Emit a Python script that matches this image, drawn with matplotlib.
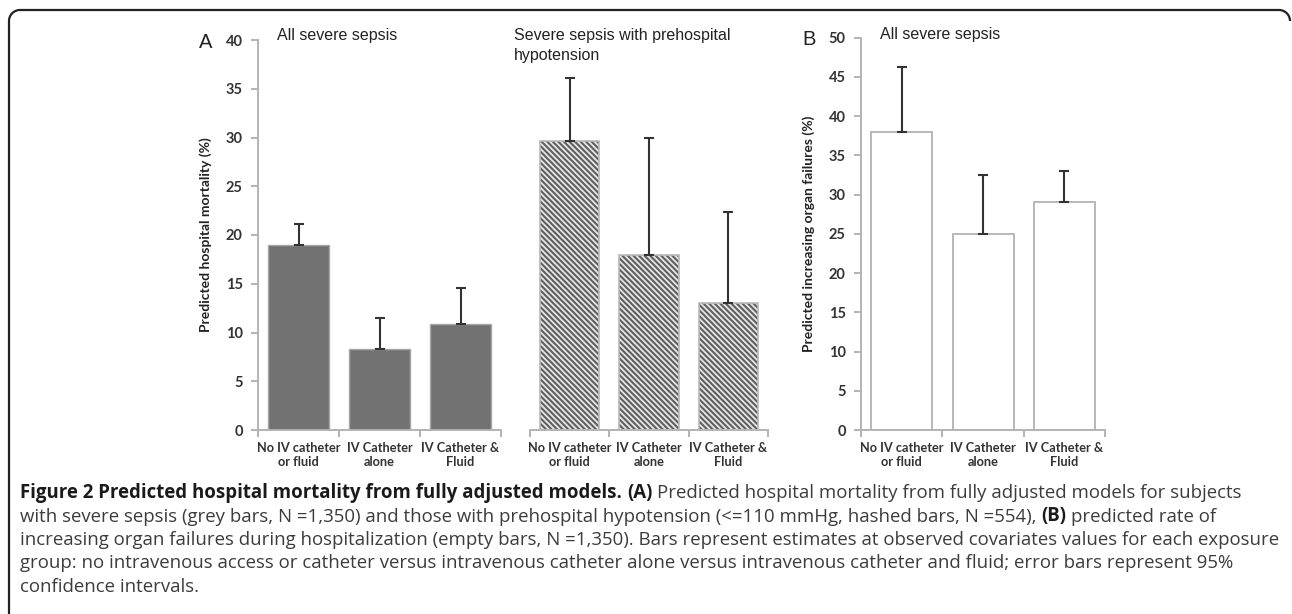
import matplotlib
matplotlib.use("Agg")
import matplotlib.pyplot as plt
import numpy as np
from matplotlib.patches import Arc

# ---------------- data ----------------
categories = ["No IV catheter\nor fluid", "IV Catheter\nalone", "IV Catheter &\nFluid"]
mort_all = [19.0, 8.3, 10.9]
mort_all_upper = [21.1, 11.5, 14.6]
mort_hypo = [29.6, 17.9, 13.0]
mort_hypo_upper = [36.1, 30.0, 22.4]
organ_all = [38.0, 25.0, 29.1]
organ_all_upper = [46.3, 32.5, 33.0]

yticks_a = [0, 5, 10, 15, 20, 25, 30, 35, 40]
yticks_b = [0, 5, 10, 15, 20, 25, 30, 35, 40, 45, 50]

W, H = 1292, 614
fig = plt.figure(figsize=(W / 100, H / 100), dpi=100)
fig.patch.set_facecolor("white")

TICKFONT = "Lato"
SPINE = "#b3b3b3"
plt.rcParams["hatch.linewidth"] = 1.5


def ax_px(left, right, top, bottom):
    return fig.add_axes([left / W, 1 - bottom / H, (right - left) / W, (bottom - top) / H])


def style(ax, ylim, yticks, show_y=True):
    ax.set_xlim(-0.5, 2.5)
    ax.set_ylim(*ylim)
    ax.spines["top"].set_visible(False)
    ax.spines["right"].set_visible(False)
    ax.spines["bottom"].set_color(SPINE)
    ax.spines["bottom"].set_linewidth(1.4)
    ax.spines["left"].set_color(SPINE)
    ax.spines["left"].set_linewidth(1.4)
    ax.set_facecolor("none")
    # category boundary ticks on x
    ax.set_xticks([-0.5, 0.5, 1.5, 2.5])
    ax.set_xticklabels([])
    ax.tick_params(axis="x", which="major", direction="out", length=5, width=1.4, color=SPINE)
    ax.set_xticks([0, 1, 2], minor=True)
    ax.set_xticklabels(categories, minor=True, fontfamily=TICKFONT, fontweight="bold",
                       fontsize=9.2, color="#333333", linespacing=1.1)
    ax.tick_params(axis="x", which="minor", length=0, pad=9)
    if show_y:
        ax.set_yticks(yticks)
        ax.set_yticklabels([str(v) for v in yticks], fontfamily=TICKFONT, fontweight="bold",
                           fontsize=10.5, color="#333333")
        ax.tick_params(axis="y", direction="out", length=5, width=1.4, color=SPINE, pad=6)
    else:
        ax.spines["left"].set_visible(False)
        ax.set_yticks([])


x = np.arange(len(categories))
ERR = dict(ecolor="#333333", elinewidth=1.5, capsize=3.6, capthick=1.5)

# ---- Panel A, all severe sepsis ----
ax1 = ax_px(258, 501, 40, 430)
style(ax1, (0, 40), yticks_a)
err = [np.zeros(3), np.array(mort_all_upper) - np.array(mort_all)]
ax1.bar(x, mort_all, width=0.75, color="#727272", edgecolor="#a8a8a8", linewidth=1.0,
        yerr=err, error_kw=ERR, zorder=2)
ax1.set_ylabel("Predicted hospital mortality (%)", fontfamily=TICKFONT, fontweight="bold",
               fontsize=10, color="#222222", labelpad=10)

# ---- Panel A, prehospital hypotension ----
ax2 = ax_px(530, 768, 40, 430)
style(ax2, (0, 40), yticks_a, show_y=False)
err = [np.zeros(3), np.array(mort_hypo_upper) - np.array(mort_hypo)]
ax2.bar(x, mort_hypo, width=0.75, color="#e6e6e6", edgecolor="#5f5f5f", linewidth=0,
        hatch="\\" * 6, zorder=2)
ax2.bar(x, mort_hypo, width=0.75, fill=False, edgecolor="#b8b8b8", linewidth=1.2,
        yerr=err, error_kw=ERR, zorder=3)

# ---- Panel B ----
ax3 = ax_px(861, 1105, 37.7, 430)
style(ax3, (0, 50), yticks_b)
err = [np.zeros(3), np.array(organ_all_upper) - np.array(organ_all)]
ax3.bar(x, organ_all, width=0.75, color="white", edgecolor="#b8b8b8", linewidth=1.4,
        yerr=err, error_kw=ERR, zorder=2)
ax3.set_ylabel("Predicted increasing organ failures (%)", fontfamily=TICKFONT, fontweight="bold",
               fontsize=10, color="#222222", labelpad=10)

# ---- panel titles ----
TF = "Liberation Sans"


def ftext(xp, yp, s, **kw):
    return fig.text(xp / W, 1 - yp / H, s, **kw)


ftext(199, 48, "A", fontfamily=TF, fontsize=14.5, color="#222222", va="baseline")
ftext(802, 45, "B", fontfamily=TF, fontsize=14.5, color="#222222", va="baseline")
ftext(277, 40, "All severe sepsis", fontfamily=TF, fontsize=11.5, color="#222222", va="baseline")
ftext(514, 40, "Severe sepsis with prehospital", fontfamily=TF, fontsize=11.5, color="#222222",
      va="baseline")
ftext(514, 60, "hypotension", fontfamily=TF, fontsize=11.5, color="#222222", va="baseline")
ftext(880, 39, "All severe sepsis", fontfamily=TF, fontsize=11.5, color="#222222", va="baseline")

# ---- caption ----
CF = "Open Sans"
CS = 13.45
caption_lines = [
    [("Figure 2 Predicted hospital mortality from fully adjusted models.", True), ("(A)", True),
     ("Predicted hospital mortality from fully adjusted models for subjects", False)],
    [("with severe sepsis (grey bars, N =1,350) and those with prehospital hypotension (<=110 mmHg, hashed bars, N =554),", False),
     ("(B)", True), ("predicted rate of", False)],
    [("increasing organ failures during hospitalization (empty bars, N =1,350). Bars represent estimates at observed covariates values for each exposure", False)],
    [("group: no intravenous access or catheter versus intravenous catheter alone versus intravenous catheter and fluid; error bars represent 95%", False)],
    [("confidence intervals.", False)],
]
baselines = [498, 521.5, 545, 568.5, 592]

renderer = fig.canvas.get_renderer()
t1 = fig.text(0, 0, "x x", fontfamily=CF, fontsize=CS)
t2 = fig.text(0, 0, "xx", fontfamily=CF, fontsize=CS)
space_w = t1.get_window_extent(renderer).width - t2.get_window_extent(renderer).width
t1.remove(); t2.remove()

for runs, yb in zip(caption_lines, baselines):
    xp = 20
    for s, bold in runs:
        t = ftext(xp, yb, s, fontfamily=CF, fontsize=CS, va="baseline",
                  fontweight="bold" if bold else "normal",
                  color="#1a1a1a" if bold else "#3c3c3c")
        xp += t.get_window_extent(renderer).width + space_w

# ---- rounded border ----
bax = fig.add_axes([0, 0, 1, 1], zorder=-5)
bax.set_xlim(0, W)
bax.set_ylim(0, H)
bax.axis("off")
r = 11
top = H - 10
bax.plot([9 + r, 1290 - r], [top, top], color="#222222", lw=1.6, solid_capstyle="butt")
bax.plot([9, 9], [0, top - r], color="#222222", lw=1.6, solid_capstyle="butt")
bax.add_patch(Arc((9 + r, top - r), 2 * r, 2 * r, theta1=90, theta2=180, color="#222222", lw=1.6))
bax.add_patch(Arc((1290 - r, top - r), 2 * r, 2 * r, theta1=0, theta2=90, color="#222222", lw=1.6))

fig.savefig("out.png", dpi=100, facecolor="white")
